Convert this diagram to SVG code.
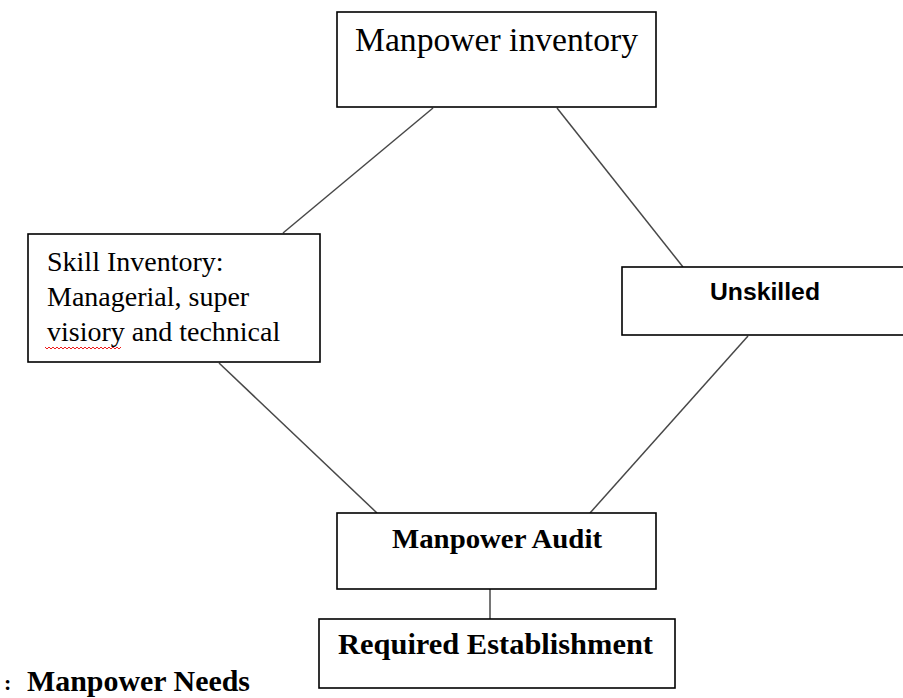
<svg xmlns="http://www.w3.org/2000/svg" width="903" height="698" viewBox="0 0 903 698">
<style>
.box{fill:#fff;stroke:#000;stroke-width:1.6}
.ln{stroke:#484848;stroke-width:1.5;fill:none}
.serif{font-family:"Liberation Serif","Times New Roman",serif;fill:#000}
.bold{font-weight:bold}
.sans{font-family:"Liberation Sans",Arial,sans-serif;font-weight:bold;fill:#000}
</style>
<rect width="903" height="698" fill="#fff"/>
<g id="connectors">
<line class="ln" x1="433" y1="108" x2="283" y2="233"/>
<line class="ln" x1="557" y1="108" x2="683" y2="267"/>
<line class="ln" x1="219" y1="363" x2="377" y2="513"/>
<line class="ln" x1="748" y1="336" x2="590" y2="513"/>
<line class="ln" x1="490" y1="589" x2="490" y2="619"/>
</g>
<g id="manpower-inventory">
<rect class="box" x="337" y="12" width="319" height="95"/>
<text class="serif" x="355" y="51" font-size="33" textLength="283" lengthAdjust="spacingAndGlyphs">Manpower inventory</text>
</g>
<g id="skill-inventory">
<rect class="box" x="28" y="234" width="292" height="128"/>
<text class="serif" x="47" y="271" font-size="28">Skill Inventory:</text>
<text class="serif" x="47" y="306" font-size="28">Managerial, super</text>
<text class="serif" x="47" y="341" font-size="28">visiory and technical</text>
<path d="M45 347 l2 2 l2 -2 l2 2 l2 -2 l2 2 l2 -2 l2 2 l2 -2 l2 2 l2 -2 l2 2 l2 -2 l2 2 l2 -2 l2 2 l2 -2 l2 2 l2 -2 l2 2 l2 -2 l2 2 l2 -2 l2 2 l2 -2 l2 2 l2 -2 l2 2 l2 -2 l2 2 l2 -2 l2 2 l2 -2 l2 2 l2 -2 l2 2 l2 -2 l2 2 l2 -2" fill="none" stroke="#e00" stroke-width="0.9"/>
</g>
<g id="unskilled">
<rect class="box" x="622" y="267" width="290" height="68"/>
<text class="sans" x="710" y="300" font-size="23" textLength="110" lengthAdjust="spacingAndGlyphs">Unskilled</text>
</g>
<g id="manpower-audit">
<rect class="box" x="337" y="513" width="319" height="76"/>
<text class="serif bold" x="392" y="548" font-size="28" textLength="210" lengthAdjust="spacingAndGlyphs">Manpower Audit</text>
</g>
<g id="required-establishment">
<rect class="box" x="319" y="619" width="356" height="69"/>
<text class="serif bold" x="338" y="654" font-size="30" textLength="315" lengthAdjust="spacingAndGlyphs">Required Establishment</text>
</g>
<g id="caption">
<text class="serif bold" x="4" y="690" font-size="22">:</text>
<text class="serif bold" x="27" y="691" font-size="29" textLength="223" lengthAdjust="spacingAndGlyphs">Manpower Needs</text>
</g>
</svg>
